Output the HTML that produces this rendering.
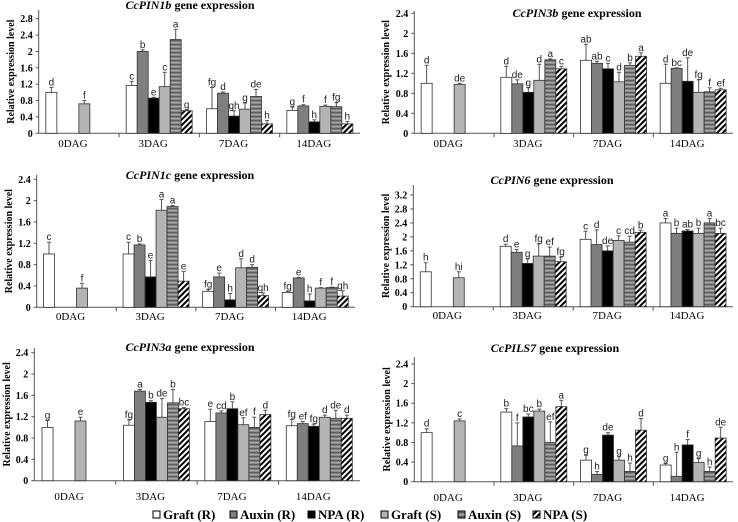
<!DOCTYPE html>
<html><head><meta charset="utf-8">
<style>
html,body{margin:0;padding:0;background:#fff;}
svg{display:block;}
</style></head>
<body>
<svg id="fig" width="738" height="522" viewBox="0 0 738 522" xmlns="http://www.w3.org/2000/svg">
<defs>
<pattern id="pStripe" width="4" height="4" patternUnits="userSpaceOnUse">
<rect width="4" height="4" fill="#8a8a8a"/><rect width="4" height="1.3" fill="#5e5e5e"/><rect y="2" width="4" height="1" fill="#a8a8a8"/>
</pattern>
<pattern id="pHatch" width="4" height="4" patternUnits="userSpaceOnUse" patternTransform="rotate(45)">
<rect width="4" height="4" fill="#fff"/><rect width="2" height="4" fill="#000"/>
</pattern>
</defs>
<g id="legend"></g>
</svg>
<script>
const categories = ["0DAG","3DAG","7DAG","14DAG"];
const seriesNames = ["Graft (R)","Auxin (R)","NPA (R)","Graft (S)","Auxin (S)","NPA (S)"];

const pin1bVals = [[1.0,null,null,0.72,null,null],[1.17,2.0,0.86,1.14,2.29,0.55],[0.6,0.98,0.42,0.59,0.9,0.23],[0.56,0.67,0.28,0.66,0.65,0.23]];
const pin1bErr = [[0.12,0,0,0.08,0,0],[0.1,0.04,0.02,0.35,0.25,0.02],[0.52,0.03,0.13,0.15,0.17,0.08],[0.08,0.03,0.05,0.03,0.1,0.06]];
const pin1bLet = [["d","","","f","",""],["c","b","e","c","a","g"],["fg","d","gh","g","de","h"],["g","f","h","f","fg","h"]];
const pin1bTicks = [0,0.4,0.8,1.2,1.6,2,2.4,2.8];

const pin3bVals = [[1.0,null,null,0.98,null,null],[1.12,0.99,0.82,1.06,1.47,1.29],[1.46,1.4,1.29,1.03,1.36,1.54],[1.0,1.3,1.04,0.82,0.83,0.87]];
const pin3bErr = [[0.36,0,0,0.02,0,0],[0.22,0.08,0.09,0.32,0.02,0.05],[0.32,0.04,0.11,0.19,0.05,0.07],[0.38,0.01,0.47,0.25,0.08,0.03]];
const pin3bLet = [["d","","","de","",""],["d","de","g","d","a","c"],["ab","ab","c","d","b","a"],["d","bc","de","fg","f","ef"]];
const pin3bTicks = [0,0.4,0.8,1.2,1.6,2,2.4];

const pin1cVals = [[1.0,null,null,0.36,null,null],[1.0,1.17,0.57,1.82,1.89,0.49],[0.3,0.57,0.14,0.74,0.75,0.22],[0.28,0.55,0.12,0.36,0.37,0.21]];
const pin1cErr = [[0.22,0,0,0.09,0,0],[0.22,0.02,0.31,0.2,0.02,0.18],[0.03,0.07,0.12,0.17,0.05,0.05],[0.02,0.01,0.13,0.01,0.01,0.1]];
const pin1cLet = [["c","","","f","",""],["c","b","e","a","a","e"],["fg","e","h","d","d","gh"],["fg","e","h","f","f","gh"]];
const pin1cTicks = [0,0.4,0.8,1.2,1.6,2,2.4];

const pin6Vals = [[1.0,null,null,0.83,null,null],[1.73,1.56,1.24,1.45,1.45,1.29],[1.93,1.78,1.6,1.9,1.85,2.13],[2.4,2.1,2.17,2.1,2.4,2.1]];
const pin6Err = [[0.26,0,0,0.17,0,0],[0.06,0.08,0.13,0.35,0.26,0.13],[0.23,0.42,0.14,0.13,0.17,0.06],[0.13,0.15,0.04,0.15,0.13,0.15]];
const pin6Let = [["h","","","hi","",""],["d","e","g","fg","ef","fg"],["c","d","de","c","cd","b"],["a","b","ab","b","a","bc"]];
const pin6Ticks = [0,0.4,0.8,1.2,1.6,2,2.4,2.8,3.2];

const pin3aVals = [[1.0,null,null,1.12,null,null],[1.04,1.68,1.47,1.19,1.46,1.35],[1.11,1.27,1.35,1.05,1.0,1.24],[1.03,1.07,1.02,1.19,1.17,1.17]];
const pin3aErr = [[0.13,0,0,0.07,0,0],[0.1,0.03,0.03,0.35,0.25,0.02],[0.23,0.04,0.13,0.13,0.19,0.08],[0.12,0.04,0.04,0.04,0.15,0.06]];
const pin3aLet = [["g","","","e","",""],["fg","a","b","de","b","bc"],["e","cd","b","ef","f","d"],["fg","ef","fg","d","de","d"]];
const pin3aTicks = [0,0.4,0.8,1.2,1.6,2,2.4];

const pils7Vals = [[1.0,null,null,1.24,null,null],[1.42,0.73,1.32,1.44,0.8,1.53],[0.44,0.15,0.95,0.44,0.21,1.05],[0.34,0.11,0.75,0.39,0.21,0.89]];
const pils7Err = [[0.08,0,0,0.04,0,0],[0.07,0.47,0.06,0.04,0.42,0.13],[0.1,0.06,0.05,0.07,0.17,0.24],[0.03,0.49,0.11,0.08,0.09,0.22]];
const pils7Let = [["d","","","c","",""],["b","f","bc","b","ef","a"],["g","h","de","g","h","d"],["g","h","f","g","h","de"]];
const pils7Ticks = [0,0.4,0.8,1.2,1.6,2,2.4];

const fills = ["#fff","#7f7f7f","#000","#b4b4b4","url(#pStripe)","url(#pHatch)"];
const SERIF = '"Liberation Serif", "DejaVu Serif", serif';
const SANS = '"Liberation Sans", sans-serif';
const NS = "http://www.w3.org/2000/svg";
const svg = document.getElementById("fig");
function mk(tag, attrs, parent){const e=document.createElementNS(NS,tag);for(const k in attrs)e.setAttribute(k,attrs[k]);(parent||svg).appendChild(e);return e;}

function drawPanel(cfg, vals, errs, lets, ticks){
  const g = mk("g",{});
  
  
  const maxT = ticks[ticks.length-1];
  const yS = v => cfg.y0 - (v/maxT)*(cfg.y0-cfg.yMax);
  const tt = mk("text",{x:cfg.tx,y:cfg.ty,"text-anchor":"middle","font-size":"12","font-family":SERIF,"font-weight":"bold"},g);
  
  
  const it = mk("tspan",{"font-style":"italic"},tt); it.textContent = cfg.gene;
  const rest = mk("tspan",{},tt); rest.textContent = " gene expression";
  const ya = mk("line",{x1:cfg.x0,y1:cfg.top,x2:cfg.x0,y2:cfg.y0,stroke:"#555","stroke-width":1},g);
  
  
  ticks.forEach(t=>{
    const y=yS(t);
    mk("line",{x1:cfg.x0-3,y1:y,x2:cfg.x0,y2:y,stroke:"#555"},g);
    const tl=mk("text",{x:cfg.x0-6,y:y+3.5,"text-anchor":"end","font-size":"10","font-family":SERIF,"font-weight":"bold"},g);
    
    
    tl.textContent=String(t);
  });
  const yl = mk("text",{x:0,y:0,"text-anchor":"middle","font-size":"10","font-family":SERIF,"font-weight":"bold",transform:`translate(${cfg.ylx},${(cfg.y0+cfg.top)/2}) rotate(-90)`},g);
  
  
  yl.textContent = "Relative expression level";
  const xa = mk("line",{x1:cfg.x0,y1:cfg.y0,x2:cfg.x1,y2:cfg.y0,stroke:"#555"},g);
  
  
  const gw=(cfg.x1-cfg.x0)/categories.length, bw=11;
  categories.forEach((c,gi)=>{
    const gx=cfg.x0+gi*gw;
    if(gi>0) mk("line",{x1:gx,y1:cfg.y0,x2:gx,y2:cfg.y0+4,stroke:"#555"},g);
    const cl=mk("text",{x:gx+gw/2-6,y:cfg.cy,"text-anchor":"middle","font-size":"11","font-family":SERIF},g);
    
    
    cl.textContent=c;
    const start=gx+(gw-6*bw)/2;
    vals[gi].forEach((v,si)=>{
      if(v===null) return;
      const x=start+si*bw, y=yS(v);
      const ey=yS(v+errs[gi][si]);
      if(errs[gi][si]>0){
        mk("line",{x1:x+bw/2,y1:y,x2:x+bw/2,y2:ey,stroke:"#555","stroke-width":1},g);
        mk("line",{x1:x+bw/2-2,y1:ey,x2:x+bw/2+2,y2:ey,stroke:"#555","stroke-width":1},g);
      }
      const r=mk("rect",{x:x,y:y,width:bw,height:cfg.y0-y,fill:fills[si],stroke:"#333","stroke-width":0.8},g);
      
      
      const lt=mk("text",{x:x+bw/2,y:Math.min(ey,y)-2,"text-anchor":"middle","font-size":"10","font-family":SANS,fill:"#222"},g);
      
      
      lt.textContent=lets[gi][si];
    });
  });
}

drawPanel({name:"pin1b-chart",gene:"CcPIN1b",x0:38.7,x1:360,y0:133.3,yMax:18.7,top:10,tx:190,ty:9,ylx:14,cy:147},pin1bVals,pin1bErr,pin1bLet,pin1bTicks);
drawPanel({name:"pin3b-chart",gene:"CcPIN3b",x0:414.3,x1:733,y0:133.3,yMax:13.3,top:11,tx:577,ty:17,ylx:389,cy:147},pin3bVals,pin3bErr,pin3bLet,pin3bTicks);
drawPanel({name:"pin1c-chart",gene:"CcPIN1c",x0:36.7,x1:355,y0:307.3,yMax:179.3,top:175,tx:190,ty:179,ylx:12,cy:320},pin1cVals,pin1cErr,pin1cLet,pin1cTicks);
drawPanel({name:"pin6-chart",gene:"CcPIN6",x0:413.3,x1:733,y0:306.7,yMax:195,top:185,tx:552,ty:184,ylx:389,cy:319},pin6Vals,pin6Err,pin6Let,pin6Ticks);
drawPanel({name:"pin3a-chart",gene:"CcPIN3a",x0:34.3,x1:360,y0:480.7,yMax:352.7,top:348,tx:190,ty:351,ylx:10,cy:500},pin3aVals,pin3aErr,pin3aLet,pin3aTicks);
drawPanel({name:"pils7-chart",gene:"CcPILS7",x0:414.3,x1:733,y0:481.7,yMax:364,top:357,tx:555,ty:352,ylx:390,cy:501},pils7Vals,pils7Err,pils7Let,pils7Ticks);

const lg=document.getElementById("legend");
const legX=[163,240,318,391,468,543];
seriesNames.forEach((n,i)=>{
  const it=mk("g",{},lg);
  
  
  mk("rect",{x:legX[i]-10,y:511,width:7,height:7,fill:fills[i],stroke:"#000","stroke-width":1},it);
  const t=mk("text",{x:legX[i],y:519,"font-size":"13","font-family":SERIF,"font-weight":"bold"},it);
  t.textContent=n;
});
</script>
</body></html>
